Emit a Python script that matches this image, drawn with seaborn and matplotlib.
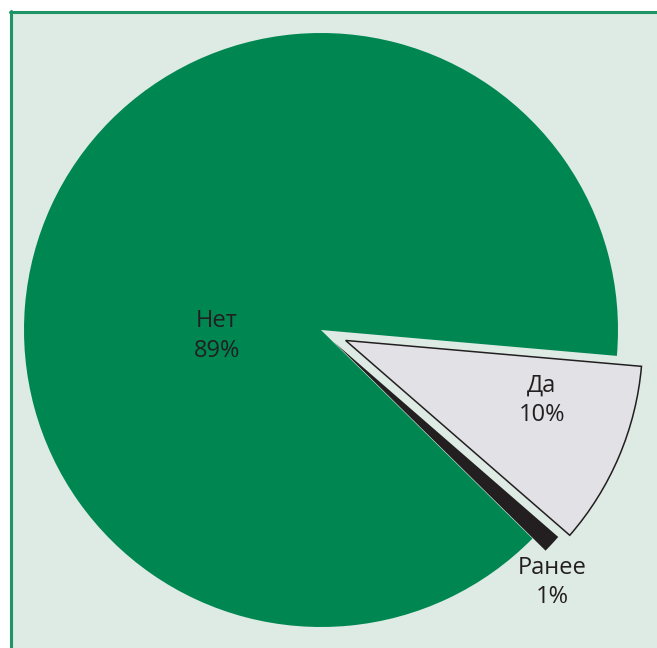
import matplotlib
matplotlib.use("Agg")
import matplotlib.pyplot as plt
import seaborn as sns
from matplotlib.patches import Rectangle
from matplotlib.lines import Line2D

sns.set_theme(style="white")
plt.rcParams['font.family'] = ['Open Sans', 'DejaVu Sans']

categories = ["Да", "Ранее", "Нет"]
values = [10, 1, 89]
pct_labels = ["10%", "1%", "89%"]
colors = ["#e1e1e6", "#231f20", "#008751"]
explode = [0.09, 0.06, 0.0]

W, H = 657, 648
fig = plt.figure(figsize=(W / 100, H / 100), dpi=100, facecolor="white")

# background panel with green frame on left and top
fig.patches.append(Rectangle((10 / W, 0), 1 - 10 / W, 1 - 11 / H, transform=fig.transFigure,
                             facecolor="#deebe5", edgecolor="none", zorder=-10))
fig.lines.append(Line2D([11 / W, 11 / W], [0, 1 - 11 / H], transform=fig.transFigure,
                        color="#1f9566", lw=2.2, zorder=-9))
fig.lines.append(Line2D([10 / W, 1], [1 - 12 / H, 1 - 12 / H], transform=fig.transFigure,
                        color="#1f9566", lw=2.2, zorder=-9))

ax = fig.add_axes([0, 0, 1, 1])
ax.set_zorder(1)
ax.set_facecolor("none")
ax.patch.set_alpha(0)
R = 297.0
cx, cy = 321.0, 330.0

wedges, _ = ax.pie(values, colors=colors, explode=explode, startangle=-5,
                   counterclock=False, radius=1.0)
for w in wedges:
    w.set_linewidth(0)
wedges[0].set_edgecolor("#231f20")
wedges[0].set_linewidth(1.1)

label_pos = {"Нет": (-0.35, -0.02), "Да": (0.744, -0.236), "Ранее": (0.78, -0.85)}
for cat, pct in zip(categories, pct_labels):
    x, y = label_pos[cat]
    ax.text(x, y, f"{cat}\n{pct}", ha="center", va="center", fontsize=17,
            color="#231f20", linespacing=1.3)

ax.set_xlim(-cx / R, (W - cx) / R)
ax.set_ylim(-(H - cy) / R, cy / R)
ax.set_aspect("equal")
ax.axis("off")

fig.savefig("out.png", dpi=100, facecolor="white")
